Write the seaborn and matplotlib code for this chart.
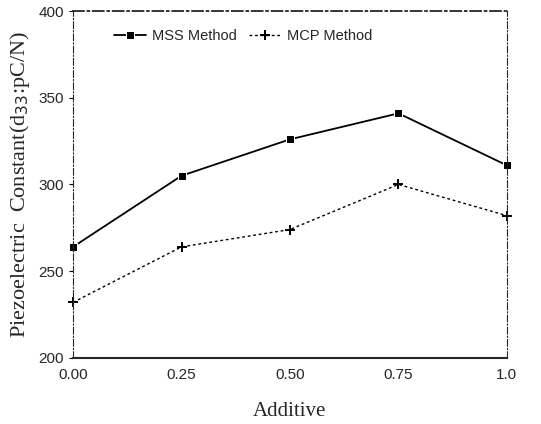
import pandas as pd
import matplotlib.pyplot as plt
import seaborn as sns

# values
additive = [0.00, 0.25, 0.50, 0.75, 1.00]
mss_values = [264, 305, 326, 341, 311]
mcp_values = [232, 264, 274, 300, 282]
x_ticks = [0.00, 0.25, 0.50, 0.75, 1.00]
x_tick_labels = ['0.00', '0.25', '0.50', '0.75', '1.0']
y_ticks = [200, 250, 300, 350, 400]

df = pd.DataFrame({
    'Additive': additive * 2,
    'Value': mss_values + mcp_values,
    'Method': ['MSS Method'] * len(additive) + ['MCP Method'] * len(additive),
})

sns.set_style('ticks')
plt.rcParams['font.family'] = ['Liberation Sans', 'DejaVu Sans']

fig = plt.figure(figsize=(5.41, 4.24), dpi=100)
ax = fig.add_axes([0.135, 0.156, 0.802, 0.818])

sns.lineplot(data=df[df['Method'] == 'MSS Method'], x='Additive', y='Value',
             color='black', linewidth=1.3, marker='s', markersize=6,
             label='MSS Method', ax=ax, clip_on=False)
sns.lineplot(data=df[df['Method'] == 'MCP Method'], x='Additive', y='Value',
             color='black', linewidth=1.0, linestyle=(0, (2, 2)), marker='+',
             markersize=6.5, markeredgewidth=1.4, markeredgecolor='black',
             label='MCP Method', ax=ax, clip_on=False)

ax.set_xlim(0, 1.0)
ax.set_ylim(200, 400)
ax.set_xticks(x_ticks)
ax.set_xticklabels(x_tick_labels)
ax.set_yticks(y_ticks)
ax.tick_params(axis='both', labelsize=11, length=3, direction='out', color='black')
ax.tick_params(axis='x', length=0, pad=7)

for side in ['top', 'right', 'left']:
    ax.spines[side].set_linestyle((0, (6, 2, 1, 2)))
    ax.spines[side].set_linewidth(0.8)
    ax.spines[side].set_visible(True)
ax.spines['top'].set_linewidth(1.3)
ax.spines['bottom'].set_linewidth(1.5)

ax.set_xlabel('Additive', fontfamily='Liberation Serif', fontsize=15, labelpad=15)
ax.set_ylabel('Piezoelectric  Constant(d$_{33}$:pC/N)', fontfamily='Liberation Serif',
              fontsize=16, labelpad=5)

ax.legend(loc='upper left', bbox_to_anchor=(0.065, 0.985), ncol=2, frameon=False,
          fontsize=10.5, handlelength=2.2, columnspacing=0.8, handletextpad=0.4)

plt.savefig('out.png', dpi=100)
